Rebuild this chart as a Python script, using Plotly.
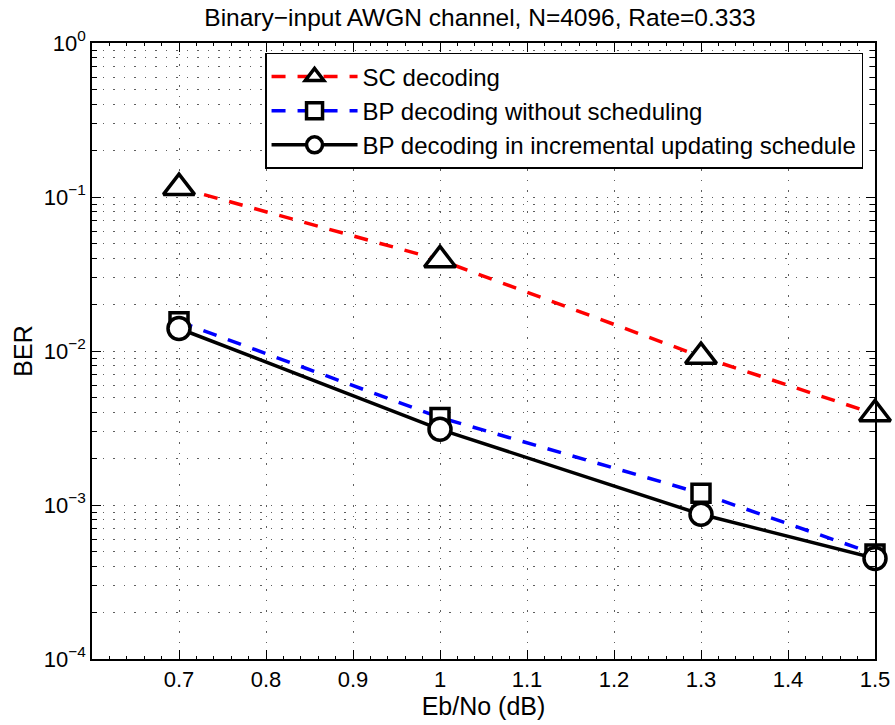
import plotly.graph_objects as go

# ---- data ----
ebno = [0.7, 1.0, 1.3, 1.5]
ber_sc = [0.115, 0.039, 0.0092, 0.0039]
ber_bp = [0.0155, 0.0037, 0.00119, 0.00048]
ber_inc = [0.014, 0.0031, 0.00087, 0.00045]

x_ticks = [0.7, 0.8, 0.9, 1.0, 1.1, 1.2, 1.3, 1.4, 1.5]
x_ticklabels = ["0.7", "0.8", "0.9", "1", "1.1", "1.2", "1.3", "1.4", "1.5"]
y_exps = [-4, -3, -2, -1, 0]
y_ticklabels = ["10<sup>%d</sup>" % e if e == 0 else "10<sup>\u2212%d</sup>" % (-e) for e in y_exps]
y_ticks = [10.0 ** e for e in y_exps]
y_minor = [m * 10.0 ** e for e in y_exps[:-1] for m in range(2, 10)]

FONT = "Liberation Sans, Arial, sans-serif"
GRIDC = "rgba(40,40,40,0.75)"
GRIDDASH = "1.5px,9px"

fig = go.Figure()

fig.add_trace(go.Scatter(
    x=ebno, y=ber_sc, mode="lines+markers", name="SC decoding", cliponaxis=False,
    line=dict(color="#ff0000", width=3.5, dash="14px,12px"),
    marker=dict(symbol="triangle-up", size=27, color="white",
                line=dict(color="black", width=3.5)),
))
fig.add_trace(go.Scatter(
    x=ebno, y=ber_bp, mode="lines+markers", name="BP decoding without scheduling", cliponaxis=False,
    line=dict(color="#0000ff", width=3.5, dash="14px,12px"),
    marker=dict(symbol="square", size=18, color="white",
                line=dict(color="black", width=3.5)),
))
fig.add_trace(go.Scatter(
    x=ebno, y=ber_inc, mode="lines+markers", name="BP decoding in incremental updating schedule",
    cliponaxis=False,
    line=dict(color="black", width=3.5),
    marker=dict(symbol="circle", size=22, color="white",
                line=dict(color="black", width=3.5)),
))

fig.update_layout(
    width=895, height=725,
    margin=dict(l=92, r=20, t=43, b=66),
    paper_bgcolor="white", plot_bgcolor="white",
    font=dict(family=FONT, size=22, color="black"),
    title=dict(text="Binary\u2212input AWGN channel, N=4096, Rate=0.333",
               font=dict(size=24.5, color="black"),
               x=480 / 895, xanchor="center", yref="container", y=1 - 17 / 725, yanchor="middle"),
    showlegend=True,
    legend=dict(x=0.221, y=0.984, xanchor="left", yanchor="top",
                bgcolor="white", bordercolor="black", borderwidth=1.5,
                font=dict(size=24), itemwidth=86, tracegroupgap=0),
)

fig.update_xaxes(
    range=[0.6, 1.5], tickmode="array", tickvals=x_ticks, ticktext=x_ticklabels,
    automargin=False,
    ticks="inside", ticklen=9, tickwidth=1, tickcolor="black",
    showline=True, linecolor="black", linewidth=1.5, mirror="ticks",
    showgrid=True, gridcolor=GRIDC, gridwidth=1, griddash=GRIDDASH,
    zeroline=False,
    minor=dict(dtick=0.02, tick0=0.6, ticks="inside", ticklen=3, tickcolor="black", showgrid=False),
    title=dict(text="Eb/No (dB)", font=dict(size=25), standoff=2),
    tickfont=dict(size=22),
)
fig.update_yaxes(
    type="log", range=[-4, 0], tickmode="array", tickvals=y_ticks, ticktext=y_ticklabels,
    automargin=False,
    ticks="inside", ticklen=9, tickwidth=1, tickcolor="black",
    showline=True, linecolor="black", linewidth=1.5, mirror="ticks",
    showgrid=True, gridcolor=GRIDC, gridwidth=1, griddash=GRIDDASH,
    zeroline=False,
    minor=dict(tickmode="array", tickvals=y_minor, ticks="inside", ticklen=5, tickcolor="black",
               showgrid=True, gridcolor=GRIDC, gridwidth=1, griddash=GRIDDASH),
    title=dict(text="BER", font=dict(size=25), standoff=4),
    tickfont=dict(size=22),
)

fig.write_html("out.html")
